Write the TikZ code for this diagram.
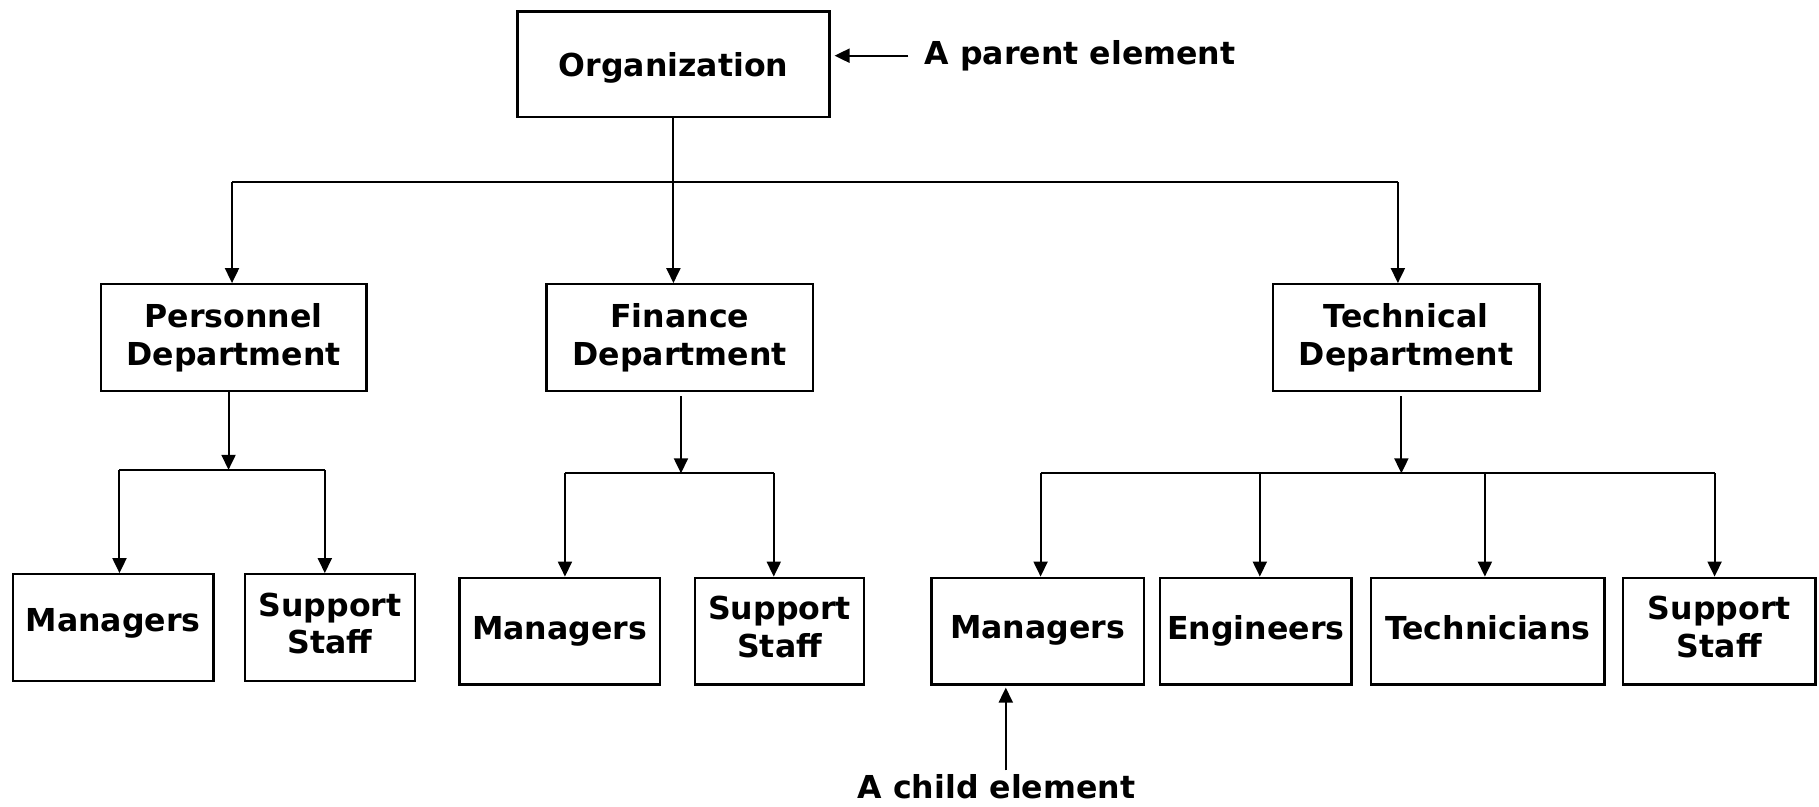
\documentclass[tikz,border=0pt]{standalone}
\usepackage{fontspec}
\setmainfont{DejaVu Sans}
\usetikzlibrary{arrows.meta}
\newcommand{\liftby}[2]{\raisebox{#1}[\height][\depth]{#2}}
\newcommand{\twoline}[2]{\liftby{0pt}{\begin{tabular}{@{}c@{}}#1\\#2\end{tabular}}}
\begin{document}
\begin{tikzpicture}[x=0.58pt,y=-0.58pt,
  box/.style={draw, line width=1.1pt, align=center, inner sep=0pt, font=\fontsize{15.8}{18.8}\selectfont\bfseries},
  lbl/.style={inner sep=0pt, font=\fontsize{15.8}{18.8}\selectfont\bfseries},
  conn/.style={line width=1pt},
  arr/.style={conn, -{Triangle[width=7pt,length=7.5pt]}}]
\useasboundingbox (0,0) rectangle (1568,695);
% boxes
\node[box, minimum width=156pt, minimum height=52.8pt] (org) at (580.5,55.5) {\liftby{-1.7pt}{Organization}};
\node[box, minimum width=132.8pt, minimum height=53.4pt] (pers) at (201.5,291) {Personnel\\Department};
\node[box, minimum width=133.4pt, minimum height=53.4pt] (fin) at (586,291) {Finance\\Department};
\node[box, minimum width=133.4pt, minimum height=53.4pt] (tech) at (1212,291) {Technical\\Department};
\node[box, minimum width=100.3pt, minimum height=53.4pt] (pm) at (97.5,541) {\liftby{2.3pt}{Managers}};
\node[box, minimum width=85.3pt, minimum height=53.4pt] (ps) at (284.5,541) {\twoline{Support}{Staff}};
\node[box, minimum width=100.3pt, minimum height=53.4pt] (fm) at (482.5,544) {Managers};
\node[box, minimum width=84.7pt, minimum height=53.4pt] (fs) at (672,544) {\twoline{Support}{Staff}};
\node[box, minimum width=106.1pt, minimum height=53.4pt] (tm) at (894.5,544) {\liftby{0.6pt}{Managers}};
\node[box, minimum width=95.7pt, minimum height=53.4pt] (te) at (1082.5,544) {Engineers};
\node[box, minimum width=116.6pt, minimum height=53.4pt] (tt) at (1282.5,544) {\liftby{1.7pt}{Technicians}};
\node[box, minimum width=96.3pt, minimum height=53.4pt] (tsup) at (1482,544) {\twoline{Support}{Staff}};
% labels
\node[lbl, anchor=west, inner xsep=8pt] (plabel) at (783,48) {A parent element};
\node[lbl, anchor=north, inner ysep=2pt] (clabel) at (859,664) {A child element};
% annotation arrows
\draw[arr] (plabel.west) -- ([xshift=2pt]org.east |- plabel.west);
\coordinate (cx) at (867,0);
\draw[arr] (clabel.north -| cx) -- ([yshift=-1pt]tm.south -| cx);
% top level
\coordinate (b1) at (200,157);
\coordinate (b2) at (1205,157);
\draw[conn] (b1) -- (b2);
\draw[arr] (org.south) -- (org.south |- fin.north);
\draw[arr] (b1) -- (b1 |- pers.north);
\draw[arr] (b2) -- (b2 |- tech.north);
% personnel
\coordinate (p0) at (197,405);
\coordinate (p1) at (103,405);
\coordinate (p2) at (280,405);
\draw[arr] (p0 |- pers.south) -- (p0);
\draw[conn] (p1) -- (p2);
\draw[arr] (p1) -- (p1 |- pm.north);
\draw[arr] (p2) -- (p2 |- ps.north);
% finance
\coordinate (f0) at (587,408);
\coordinate (f1) at (487,408);
\coordinate (f2) at (667,408);
\draw[arr] ([yshift=-2pt]f0 |- fin.south) -- (f0);
\draw[conn] (f1) -- (f2);
\draw[arr] (f1) -- (f1 |- fm.north);
\draw[arr] (f2) -- (f2 |- fs.north);
% technical
\coordinate (t0) at (1208,408);
\coordinate (t1) at (897,408);
\coordinate (t2) at (1086,408);
\coordinate (t3) at (1280,408);
\coordinate (t4) at (1478,408);
\draw[arr] ([yshift=-2pt]t0 |- tech.south) -- (t0);
\draw[conn] (t1) -- (t4);
\draw[arr] (t1) -- (t1 |- tm.north);
\draw[arr] (t2) -- (t2 |- te.north);
\draw[arr] (t3) -- (t3 |- tt.north);
\draw[arr] (t4) -- (t4 |- tsup.north);
\end{tikzpicture}
\end{document}
